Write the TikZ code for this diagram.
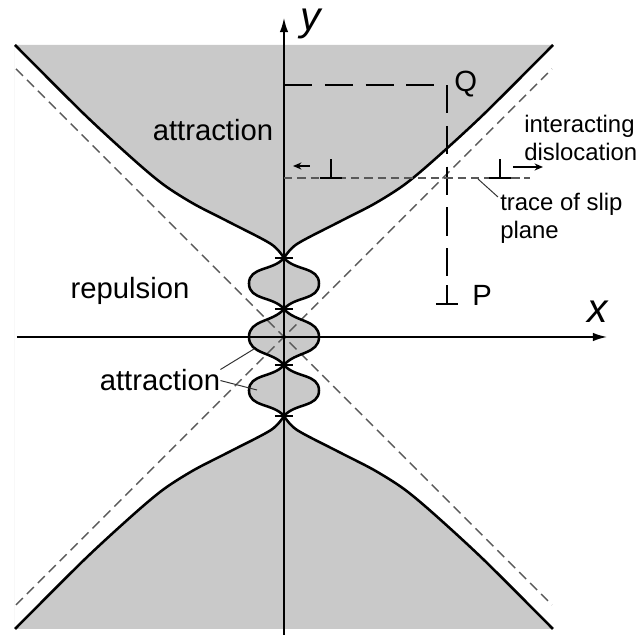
\documentclass[tikz,border=0pt]{standalone}
\usepackage{fontspec}
\setmainfont{Liberation Sans}
\usetikzlibrary{arrows.meta}

\begin{document}
\begin{tikzpicture}[
    x=0.025cm, y=0.025cm,
    every node/.style={font=\fontsize{20.8}{25}\selectfont, inner sep=0pt},
    smalllabel/.style={font=\fontsize{17}{19.5}\selectfont, align=left, inner sep=0pt},
    axislabel/.style={font=\fontsize{29}{32}\selectfont\itshape},
    axis/.style={line width=1.1pt, -{Latex[length=10pt,width=6pt]}},
    boundary/.style={line width=1.8pt, line join=round},
    region/.style={fill=black!21, even odd rule},
    asymptote/.style={line width=1pt, black!65, dash pattern=on 7pt off 4pt},
    slipline/.style={line width=0.9pt, black!65, dash pattern=on 6pt off 3.5pt},
    pathline/.style={line width=1.7pt, dash pattern=on 20pt off 9pt},
    disloc/.style={line width=1.6pt},
    motion/.style={line width=1pt, -{Stealth[length=6pt,width=5pt]}},
    leader/.style={line width=0.7pt, black!80},
    nodetick/.style={line width=2pt}
]
    \useasboundingbox (-284,-298) rectangle (357,337);

% -------------------------
% Shaded attraction regions
% -------------------------
    \fill[region] plot[smooth] coordinates {(269,292) (200,223) (150,177) (120,152) (90,133) (55,115) (13,93) (0,79)}
        to[out=230, in=90] (-35,53.5) to[out=-90, in=130] (0,28) to[out=-50, in=90] (35,0) to[out=-90, in=50] (0,-28)
        to[out=-130, in=90] (-35,-53.5) to[out=-90, in=130] (0,-79)
        -- plot[smooth] coordinates {(0,-79) (13,-93) (55,-115) (90,-133) (120,-152) (150,-177) (200,-223) (269,-292)}
        -- (-269,-292) -- (-269,292) -- cycle
        plot[smooth] coordinates {(-269,292) (-200,223) (-150,177) (-120,152) (-90,133) (-55,115) (-13,93) (0,79)}
        to[out=-50, in=90] (35,53.5) to[out=-90, in=50] (0,28) to[out=-130, in=90] (-35,0) to[out=-90, in=130] (0,-28)
        to[out=-50, in=90] (35,-53.5) to[out=-90, in=50] (0,-79)
        -- plot[smooth] coordinates {(0,-79) (-13,-93) (-55,-115) (-90,-133) (-120,-152) (-150,-177) (-200,-223) (-269,-292)}
        -- cycle;

% -------------------------
% Asymptotes & axes
% -------------------------
    \draw[asymptote] (-268,268) -- (268,-268);
    \draw[asymptote] (-268,-268) -- (268,268);

    \draw[axis] (-267,0) -- (323,0);
    \draw[axis] (0,-298) -- (0,319);
    \node[axislabel, anchor=base] (xlabel) at (314,14) {x};
    \node[axislabel, anchor=base] (ylabel) at (27,306) {y};

% -------------------------
% Boundary curves
% -------------------------
    % right-hand curve
    \draw[boundary] plot[smooth] coordinates {(269,292) (200,223) (150,177) (120,152) (90,133) (55,115) (13,93) (0,79)}
        to[out=230, in=90] (-35,53.5) to[out=-90, in=130] (0,28) to[out=-50, in=90] (35,0) to[out=-90, in=50] (0,-28)
        to[out=-130, in=90] (-35,-53.5) to[out=-90, in=130] (0,-79)
        -- plot[smooth] coordinates {(0,-79) (13,-93) (55,-115) (90,-133) (120,-152) (150,-177) (200,-223) (269,-292)};
    % left-hand curve
    \draw[boundary] plot[smooth] coordinates {(-269,292) (-200,223) (-150,177) (-120,152) (-90,133) (-55,115) (-13,93) (0,79)}
        to[out=-50, in=90] (35,53.5) to[out=-90, in=50] (0,28) to[out=-130, in=90] (-35,0) to[out=-90, in=130] (0,-28)
        to[out=-50, in=90] (35,-53.5) to[out=-90, in=50] (0,-79)
        -- plot[smooth] coordinates {(0,-79) (-13,-93) (-55,-115) (-90,-133) (-120,-152) (-150,-177) (-200,-223) (-269,-292)};

    \foreach \yy in {79,28,-28,-79}
        \draw[nodetick] (-9,\yy) -- (9,\yy);

% -------------------------
% Slip plane & dislocations
% -------------------------
    \draw[pathline] (0,252) -- (163,252) -- (163,52);
    \draw[slipline] (0,159) -- (246,159);

    \coordinate (dP) at (163,33);
    \coordinate (dL) at (47,159);
    \coordinate (dR) at (216,159);
    \foreach \d in {dP,dL,dR}
        \draw[disloc] (\d) ++(-11,0) -- ++(22,0) (\d) -- ++(0,19);

    \draw[motion] (26,171) -- (9,171);
    \draw[motion] (229,170) -- (259,170);

% -------------------------
% Labels
% -------------------------
    \node[anchor=base] (attrup) at (-71,196) {attraction};
    \node[anchor=base] (repul) at (-154,38) {repulsion};
    \node[anchor=base] (attrlow) at (-124,-54) {attraction};
    \node[anchor=base west] (Qlabel) at (170,245) {Q};
    \node[anchor=base west] (Plabel) at (188,31) {P};
    \node[smalllabel, anchor=north west] (interact) at (240,222) {interacting\\dislocation};
    \node[smalllabel, anchor=north west] (trace) at (216,144) {trace of slip\\plane};

    % leaders
    \coordinate (traceend) at (194,158);
    \coordinate (bulbmid) at (-30,-12);
    \coordinate (bulblow) at (-27,-53);
    \draw[leader] (traceend) -- ([shift={(-2,-4)}]trace.north west);
    \draw[leader] (attrlow.north east) -- (bulbmid);
    \draw[leader] (attrlow.east) -- (bulblow);
\end{tikzpicture}
\end{document}
